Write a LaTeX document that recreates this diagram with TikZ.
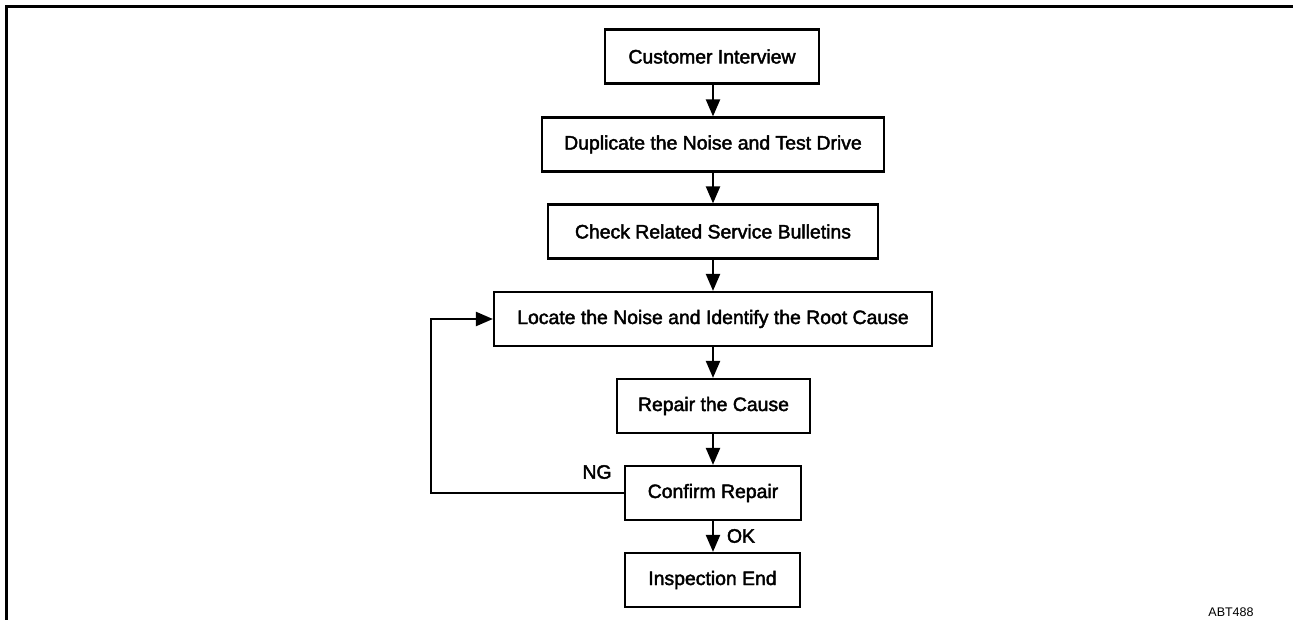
\documentclass[tikz,border=0pt]{standalone}
\usepackage{fontspec}
\setmainfont{Liberation Sans}
\newfontfamily\medfont[FakeBold=2.2]{Liberation Sans}
\usetikzlibrary{arrows.meta}
\begin{document}
\begin{tikzpicture}[x=1pt,y=-1pt,
  box/.style={draw, line width=2.2pt, minimum height=54pt, inner sep=0pt, align=center,
    font=\medfont\fontsize{19.4}{22}\selectfont},
  lbl/.style={inner sep=0pt, font=\medfont\fontsize{19.4}{22}\selectfont},
  conn/.style={line width=2.2pt, -{Triangle[length=17pt,width=14pt]}},
  frame/.style={line width=3.8pt, line join=miter}]
\useasboundingbox (0,0) rectangle (1293,620);
\draw[frame] (6.5,620) -- (6.5,6.5) -- (1293,6.5);
\node[box, minimum width=214pt] (ci) at (712,56.5) {Customer Interview};
\node[box, minimum width=342pt] (dup) at (713,144.5) {Duplicate the Noise and Test Drive};
\node[box, minimum width=330pt] (chk) at (713,231.5) {Check Related Service Bulletins};
\node[box, minimum width=438pt] (loc) at (713,319) {Locate the Noise and Identify the Root Cause};
\node[box, minimum width=193pt] (rep) at (713.5,406) {Repair the Cause};
\node[box, minimum width=176pt] (conf) at (713,493) {Confirm Repair};
\node[box, minimum width=175pt] (end) at (712.5,580) {Inspection End};
\coordinate (lp) at (431,493);
\draw[conn] (ci.south -| 713,0) -- (dup.north -| 713,0);
\draw[conn] (dup.south -| 713,0) -- (chk.north -| 713,0);
\draw[conn] (chk.south -| 713,0) -- (loc.north -| 713,0);
\draw[conn] (loc.south -| 713,0) -- (rep.north -| 713,0);
\draw[conn] (rep.south -| 713,0) -- (conf.north -| 713,0);
\draw[conn] (conf.south -| 713,0) -- (end.north -| 713,0);
\draw[conn] (conf.west) -- (lp) |- (loc.west);
\node[lbl] (ng) at (597,472) {NG};
\node[lbl] (ok) at (741,536) {OK};
\node[inner sep=0pt, font=\fontsize{12.5}{15}\selectfont] (code) at (1231,612) {ABT488};
\end{tikzpicture}
\end{document}
